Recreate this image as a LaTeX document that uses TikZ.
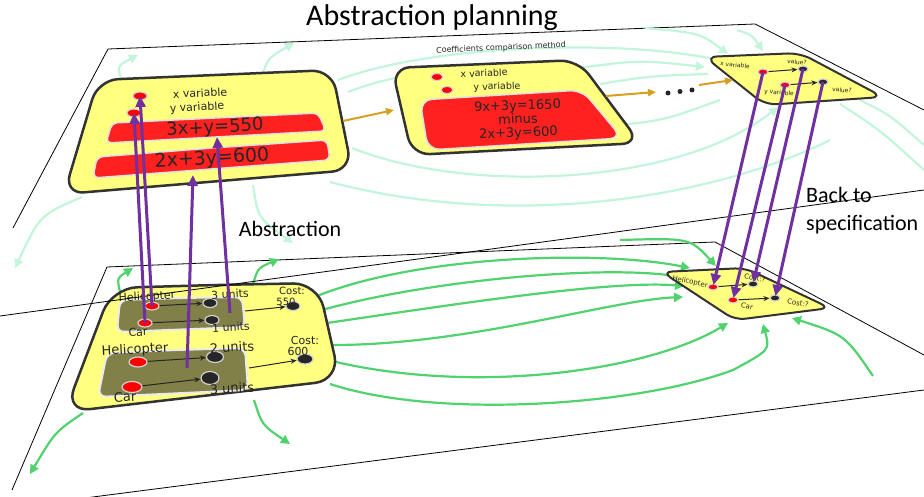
\documentclass[tikz,border=0pt]{standalone}
\usepackage{fontspec}
\setmainfont{DejaVu Sans}
\newfontfamily\headfont{Carlito}
\usepackage{xcolor}
\usepackage{tikz}
\usetikzlibrary{shapes.geometric,arrows.meta,positioning}

\definecolor{cardyellow}{RGB}{255,255,128}
\definecolor{barred}{RGB}{255,32,32}
\definecolor{olivebox}{RGB}{128,128,72}
\definecolor{purplearrow}{RGB}{112,48,160}
\definecolor{orangearrow}{RGB}{214,160,30}
\definecolor{fieldgreen}{RGB}{80,210,110}
\definecolor{palegreen}{RGB}{195,245,218}

\begin{document}
\begin{tikzpicture}[
    x=1pt, y=-1pt,
    plane/.style={line width=0.8pt, black},
    cardbox/.style={draw=black!80, line width=2.5pt, fill=cardyellow, rounded corners=20pt},
    bar/.style={draw=black!12, line width=1.5pt, fill=barred, rounded corners=6pt},
    unitbox/.style={draw=black!8, line width=2pt, fill=olivebox, rounded corners=7pt},
    reddot/.style={ellipse, draw=black!18, line width=1.2pt, fill=red, minimum width=14pt, minimum height=8pt, inner sep=0pt},
    blackdot/.style={ellipse, draw=black!18, line width=1.2pt, fill=black!85, minimum width=14pt, minimum height=9pt, inner sep=0pt},
    lab/.style={inner sep=0pt, text=black!85, font=\fontsize{11}{13}\selectfont},
    eqn/.style={inner sep=0pt, text=black!85, font=\fontsize{18}{20}\selectfont},
    link/.style={-{Stealth[length=6pt,width=5pt]}, line width=1pt, black!85},
    lift/.style={-{Triangle[length=11pt,width=10pt]}, line width=3pt, purplearrow},
    field/.style={-{Triangle[length=9pt,width=9pt]}, line width=2.2pt, fieldgreen},
    pale/.style={-{Triangle[length=9pt,width=9pt]}, line width=2.2pt, palegreen},
    flow/.style={-{Triangle[length=8pt,width=7pt]}, line width=2pt, orangearrow}
]
    \useasboundingbox (0,0) rectangle (924,497);

    % Planes
    \draw[plane] (13,228) -- (108,49) -- (755,24) -- (924,110);
    \draw[plane] (12,490) -- (107,267) -- (715,242) -- (924,355);
    \draw[plane] (85,498) -- (924,390);

    % Field lines, upper level
    \draw[pale] (122,82) .. controls (117,66) .. (138,55);
    \draw[pale] (262,76) .. controls (268,58) .. (294,43);
    \draw[pale] (338,80) .. controls (430,45) and (620,38) .. (728,62);
    \draw[pale, -] (348,92) .. controls (370,84) .. (395,78);
    \draw[pale] (578,68) .. controls (640,60) .. (705,67);
    \draw[pale, -] (600,84) .. controls (650,76) .. (708,74);
    \draw[pale] (645,28) .. controls (700,33) .. (728,54);
    \draw[pale] (737,30) .. controls (752,35) .. (763,51);
    \draw[pale, -] (620,125) .. controls (665,120) .. (720,100);
    \draw[pale] (352,148) .. controls (470,195) and (680,185) .. (778,107);
    \draw[pale, -] (330,182) .. controls (520,232) and (720,195) .. (830,140);
    \draw[pale, -] (860,100) .. controls (890,115) .. (924,145);
    \draw[pale, -] (840,104) .. controls (880,130) .. (924,170);
    \draw[pale] (82,197) .. controls (40,215) .. (15,268);
    \draw[pale] (253,185) .. controls (258,218) .. (293,243);

    % Field lines, lower level
    \draw[field] (120,292) .. controls (117,278) .. (133,268);
    \draw[field] (253,284) .. controls (258,268) .. (279,259);
    \draw[field] (317,296) .. controls (420,255) and (600,250) .. (690,268);
    \draw[field] (322,310) .. controls (430,280) and (600,265) .. (682,277);
    \draw[field] (327,323) .. controls (450,305) and (610,280) .. (684,286);
    \draw[field] (333,345) .. controls (470,345) and (610,300) .. (683,297);
    \draw[field] (336,362) .. controls (480,395) and (650,370) .. (728,323);
    \draw[field] (330,384) .. controls (440,420) and (640,405) .. (733,370) .. controls (770,350) .. (763,324);
    \draw[field] (620,240) .. controls (690,238) .. (716,266);
    \draw[field] (873,376) .. controls (845,335) .. (792,318);
    \draw[field] (83,413) .. controls (55,432) .. (30,474);
    \draw[field] (254,400) .. controls (262,425) .. (290,444);

    % Specification card, left
    \draw[cardbox, rounded corners=25pt] (215,285) -- (318,283) -- (340,380) -- (65,412) -- (112,288) -- cycle;
    \draw[unitbox] (181,298) -- (242,297) -- (245,327) -- (117,332) -- (120,300) -- cycle;
    \draw[unitbox, rounded corners=8pt] (176,350) -- (245,348) -- (248,390) -- (98,397) -- (107,353) -- cycle;
    \node[reddot] (heli1) at (152,306) {};
    \node[reddot] (car1) at (145,323) {};
    \node[blackdot] (heliu1) at (210,303) {};
    \node[blackdot] (caru1) at (212,320) {};
    \node[reddot, minimum width=18pt, minimum height=10pt] (heli2) at (138,362) {};
    \node[reddot, minimum width=20pt, minimum height=11pt] (car2) at (132,387) {};
    \node[blackdot, minimum width=17pt, minimum height=11pt] (heliu2) at (215,357) {};
    \node[blackdot, minimum width=18pt, minimum height=13pt] (caru2) at (210,378) {};
    \node[blackdot] (cost1) at (293,306) {};
    \node[blackdot, minimum width=16pt, minimum height=10pt] (cost2) at (305,359) {};
    \coordinate (box1out) at (245,311);
    \coordinate (box2out) at (249,368);
    \coordinate (box1mid) at (230,313);
    \coordinate (box2mid) at (187,368);
    \draw[link] (heli1) -- (heliu1);
    \draw[link] (car1) -- (caru1);
    \draw[link] (heli2) -- (heliu2);
    \draw[link] (car2) -- (caru2);
    \draw[link] (box1out) -- (cost1);
    \draw[link] (box2out) -- (cost2);
    \node[lab, rotate=3] (helilab1) at (147,297) {Helicopter};
    \node[lab, rotate=3] (unitlab1) at (230,294) {3 units};
    \node[lab, rotate=3] (carlab1) at (138,332) {Car};
    \node[lab, rotate=3] (unitlab2) at (231,327) {1 units};
    \node[lab, font=\fontsize{10}{10}\selectfont] (costlab1) at (292,291) {Cost:};
    \node[lab, font=\fontsize{10}{10}\selectfont] (costval1) at (286,302) {550};
    \node[lab, rotate=3, font=\fontsize{13}{13}\selectfont] (helilab2) at (135,350) {Helicopter};
    \node[lab, rotate=3, font=\fontsize{13}{13}\selectfont] (unitlab3) at (232,347) {2 units};
    \node[lab, rotate=3, font=\fontsize{13}{13}\selectfont] (carlab2) at (125,397) {Car};
    \node[lab, rotate=3, font=\fontsize{13}{13}\selectfont] (unitlab4) at (232,388) {3 units};
    \node[lab, font=\fontsize{11}{11}\selectfont] (costlab2) at (305,340) {Cost:};
    \node[lab, font=\fontsize{11}{11}\selectfont] (costval2) at (298,351) {600};

    % Specification card, right
    \draw[cardbox, rounded corners=10pt, line width=2pt] (703,270) -- (745,268) -- (830,308) -- (735,320) -- (662,272) -- cycle;
    \node[reddot, minimum width=10pt, minimum height=6pt] (helid) at (713,287) {};
    \node[blackdot, minimum width=10pt, minimum height=6pt] (costd1) at (753,284) {};
    \node[reddot, minimum width=10pt, minimum height=6pt] (cardot) at (733,300) {};
    \node[blackdot, minimum width=10pt, minimum height=6pt] (costd2) at (775,298) {};
    \draw[link] (helid) -- (costd1);
    \draw[link] (cardot) -- (costd2);
    \node[lab, rotate=-12, font=\fontsize{7}{7}\selectfont] (helilab3) at (690,282) {Helicopter};
    \node[lab, rotate=-12, font=\fontsize{7}{7}\selectfont] (costlab3) at (755,278) {Cost:?};
    \node[lab, rotate=-12, font=\fontsize{7}{7}\selectfont] (carlab3) at (747,306) {Car};
    \node[lab, rotate=-12, font=\fontsize{7}{7}\selectfont] (costlab4) at (798,303) {Cost:?};

    % Abstract card, left
    \draw[cardbox] (215,75) -- (332,70) -- (352,170) -- (64,194) -- (98,80) -- cycle;
    \draw[bar, rounded corners=5pt] (215,118) -- (318,113) -- (326,131) -- (106,143) -- (112,123) -- cycle;
    \draw[bar] (212,148) -- (327,140) -- (330,160) -- (93,178) -- (97,157) -- cycle;
    \node[reddot] (xvar) at (140,96) {};
    \node[reddot] (yvar) at (134,113) {};
    \node[lab, rotate=3] (xvarlab) at (200,93) {x variable};
    \node[lab, rotate=3] (yvarlab) at (197,108) {y variable};
    \node[eqn, rotate=3] (eqone) at (215,128) {3x+y=550};
    \node[eqn, rotate=3, font=\fontsize{19}{20}\selectfont] (eqtwo) at (212,159) {2x+3y=600};
    \coordinate (barone) at (217,137);
    \coordinate (bartwo) at (193,175);

    % Abstract card, middle
    \draw[cardbox, rounded corners=18pt] (485,64) -- (578,60) -- (640,143) -- (412,155) -- (392,68) -- cycle;
    \draw[bar, rounded corners=12pt] (501,95) -- (582,90) -- (622,138) -- (428,150) -- (420,100) -- cycle;
    \node[reddot, minimum width=12pt, minimum height=7pt] (xvarb) at (437,77) {};
    \node[reddot, minimum width=12pt, minimum height=7pt] (yvarb) at (447,90) {};
    \node[lab, rotate=2, font=\fontsize{9.5}{10}\selectfont] (xvarlabb) at (484,73) {x variable};
    \node[lab, rotate=2, font=\fontsize{9.5}{10}\selectfont] (yvarlabb) at (497,87) {y variable};
    \node[lab, rotate=2, align=center, font=\fontsize{13}{13.5}\selectfont] (eqdiff) at (518,120) {9x+3y=1650\\minus\\2x+3y=600};
    \node[lab, rotate=2.5, font=\fontsize{8}{8}\selectfont] (method) at (501,48) {Coefficients comparison method};

    % Abstract card, right
    \draw[cardbox, rounded corners=12pt, line width=2pt] (752,55) -- (800,53) -- (883,97) -- (765,105) -- (705,57) -- cycle;
    \node[reddot, minimum width=10pt, minimum height=6pt] (xvarc) at (763,72) {};
    \node[blackdot, minimum width=10pt, minimum height=6pt] (valx) at (803,69) {};
    \node[reddot, minimum width=10pt, minimum height=6pt] (yvarc) at (785,85) {};
    \node[blackdot, minimum width=10pt, minimum height=6pt] (valy) at (823,82) {};
    \draw[link] (xvarc) -- (valx);
    \draw[link] (yvarc) -- (valy);
    \node[lab, rotate=-5, font=\fontsize{6}{6}\selectfont] (xvarlabc) at (735,65) {x variable};
    \node[lab, rotate=-5, font=\fontsize{6}{6}\selectfont] (vallabx) at (797,62) {value?};
    \node[lab, rotate=-5, font=\fontsize{6}{6}\selectfont] (yvarlabc) at (779,93) {y variable};
    \node[lab, rotate=-5, font=\fontsize{6}{6}\selectfont] (vallaby) at (842,90) {value?};

    % Steps between abstract cards
    \coordinate (cardoneE) at (343,121);
    \coordinate (cardtwoW) at (394,110);
    \coordinate (cardtwoE) at (606,96);
    \coordinate (gapW) at (656,92);
    \coordinate (gapE) at (699,85);
    \coordinate (cardthreeW) at (733,80);
    \draw[flow] (cardoneE) -- (cardtwoW);
    \draw[flow] (cardtwoE) -- (gapW);
    \draw[flow] (gapE) -- (cardthreeW);
    \foreach \dx in {0,12,24}
        \fill[black!85] (668+\dx,93-\dx/8) circle (2.5pt);

    % Titles
    \node[font=\headfont\fontsize{30}{30}\selectfont] (title) at (432,18) {Abstraction planning};
    \node[font=\headfont\fontsize{22}{22}\selectfont] (abstr) at (290,229) {Abstraction};
    \node[font=\headfont\fontsize{22}{28}\selectfont, align=left, anchor=west, inner sep=0pt] (back) at (806,211) {Back to\\specification};

    % Upper plane, front edge
    \draw[plane] (0,316) -- (924,190);

    % Abstraction
    \draw[lift] (car1.center) -- (yvar.center);
    \draw[lift] (heli1.center) -- (xvar.center);
    \draw[lift] (box2mid) -- (bartwo);
    \draw[lift] (box1mid) -- (barone);

    % Back to specification
    \draw[lift, shorten >=2pt] (xvarc.center) -- (helid.center);
    \draw[lift, shorten >=2pt] (valx.center) -- (costd1.center);
    \draw[lift, shorten >=2pt] (yvarc.center) -- (cardot.center);
    \draw[lift, shorten >=2pt] (valy.center) -- (costd2.center);
\end{tikzpicture}
\end{document}
